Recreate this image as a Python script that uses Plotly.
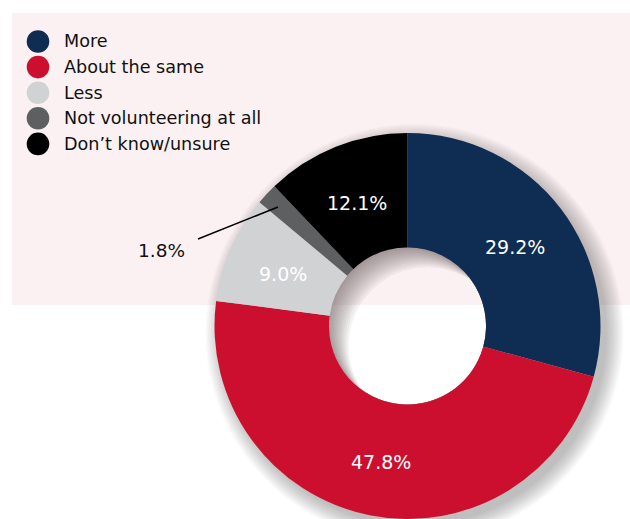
import math
import plotly.graph_objects as go

# Survey responses: change in volunteering
categories = ["More", "About the same", "Less", "Not volunteering at all", "Don\u2019t know/unsure"]
shares = [29.2, 47.8, 9.0, 1.8, 12.1]
colors = ["#0f2c52", "#cc0f2e", "#d1d2d4", "#5e5f61", "#000000"]

W, H = 630, 519
FONT = "DejaVu Sans, Verdana, sans-serif"

# pie geometry in pixels
CX, TOP = 407.5, 133
R = (H - TOP) / 2          # pie fills domain height down to the bottom edge
CY = TOP + R
HOLE_R = 78.5


def px(x):
    return x / W


def py(y):
    return 1 - y / H


def circle_path(cx, cy, r, n=120):
    pts = []
    for i in range(n):
        a = 2 * math.pi * i / n
        pts.append((px(cx + r * math.cos(a)), py(cy + r * math.sin(a))))
    s = "M{:.5f},{:.5f}".format(*pts[0])
    for p in pts[1:]:
        s += " L{:.5f},{:.5f}".format(*p)
    return s + " Z"


shapes = []
# pale panel behind legend and upper half of the donut
shapes.append(dict(type="rect", xref="paper", yref="paper", layer="below",
                   x0=px(12), x1=1, y0=py(305), y1=py(13),
                   fillcolor="#fbf1f2", line=dict(width=0)))

# soft drop shadow to the lower right of the ring (hole left open)
hole_path = circle_path(CX, CY, HOLE_R)
N = 14
for i in range(N):
    rr = R + 16 - i * 1.3
    path = circle_path(CX + 7, CY + 7, rr) + " " + hole_path
    shapes.append(dict(type="path", xref="paper", yref="paper", layer="below",
                       path=path, fillrule="evenodd",
                       fillcolor="rgba(60,60,60,0.028)", line=dict(width=0)))

# inner shadow inside the hole (top-left crescents)
for k in range(1, 12):
    d = 1.8 * k
    path = hole_path + " " + circle_path(CX + d, CY + d, HOLE_R)
    shapes.append(dict(type="path", xref="paper", yref="paper", layer="below",
                       path=path, fillrule="evenodd",
                       fillcolor="rgba(90,70,70,0.06)", line=dict(width=0)))

# leader line for the small slice label
shapes.append(dict(type="line", xref="paper", yref="paper", layer="above",
                   x0=px(198), y0=py(239), x1=px(278), y1=py(207),
                   line=dict(color="#000000", width=1.5)))

annotations = []
# custom legend with round markers
LEG_X, LEG_Y0, LEG_DY, LEG_R = 38, 41.5, 25.6, 11.3
for i, (name, col) in enumerate(zip(categories, colors)):
    yc = LEG_Y0 + i * LEG_DY
    shapes.append(dict(type="circle", xref="paper", yref="paper", layer="above",
                       x0=px(LEG_X - LEG_R), x1=px(LEG_X + LEG_R),
                       y0=py(yc + LEG_R), y1=py(yc - LEG_R),
                       fillcolor=col, line=dict(width=0)))
    annotations.append(dict(xref="paper", yref="paper", x=px(62), y=py(yc),
                            xanchor="left", yanchor="middle", showarrow=False,
                            text=name, font=dict(family=FONT, size=17.6, color="#111111")))

# slice labels: placed mid-ring along each slice's bisector
small = 3
total = sum(shares)
cum = 0.0
label_r = (R + HOLE_R) / 2
for i, v in enumerate(shares):
    mid = (cum + v / 2) / total * 2 * math.pi
    cum += v
    if i == small:
        continue
    lx = CX + label_r * math.sin(mid)
    ly = CY + 3 - label_r * math.cos(mid)
    annotations.append(dict(xref="paper", yref="paper", x=px(lx), y=py(ly),
                            xanchor="center", yanchor="middle", showarrow=False,
                            text=f"{v:.1f}%",
                            font=dict(family=FONT, size=19, color="#ffffff")))

# outside label for the smallest slice
annotations.append(dict(xref="paper", yref="paper", x=px(162), y=py(251),
                        xanchor="center", yanchor="middle", showarrow=False,
                        text=f"{shares[small]:.1f}%",
                        font=dict(family=FONT, size=18.5, color="#111111")))

fig = go.Figure(go.Pie(
    labels=categories,
    values=shares,
    textinfo="none",
    marker=dict(colors=colors, line=dict(width=0)),
    hole=HOLE_R / R,
    sort=False,
    direction="clockwise",
    rotation=0,
    domain=dict(x=[px(CX - R), px(CX + R)], y=[0, py(TOP)]),
    showlegend=False,
))

fig.update_layout(
    width=W, height=H,
    margin=dict(l=0, r=0, t=0, b=0),
    paper_bgcolor="#ffffff",
    plot_bgcolor="#ffffff",
    shapes=shapes,
    annotations=annotations,
    showlegend=False,
)

fig.write_html("out.html")
